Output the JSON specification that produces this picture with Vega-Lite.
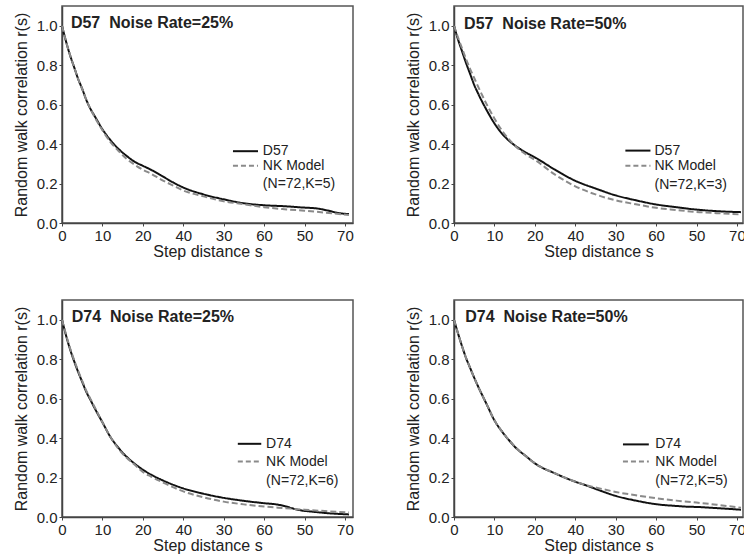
{
"$schema": "https://vega.github.io/schema/vega-lite/v6.json",
"padding": {"left": 12, "top": 5, "right": 0, "bottom": 0},
"background": "white",
"datasets": {
"A": [
{"g":"D","s":0,"r":1.0},{"g":"D","s":1,"r":0.92},{"g":"D","s":2,"r":0.85},{"g":"D","s":3,"r":0.79},{"g":"D","s":4,"r":0.73},{"g":"D","s":5,"r":0.68},{"g":"D","s":6,"r":0.625},{"g":"D","s":7,"r":0.58},{"g":"D","s":8,"r":0.545},{"g":"D","s":10,"r":0.475},{"g":"D","s":12,"r":0.42},{"g":"D","s":14,"r":0.375},{"g":"D","s":16,"r":0.34},{"g":"D","s":18,"r":0.31},{"g":"D","s":20,"r":0.29},{"g":"D","s":22,"r":0.27},{"g":"D","s":25,"r":0.235},{"g":"D","s":28,"r":0.2},{"g":"D","s":30,"r":0.18},{"g":"D","s":35,"r":0.145},{"g":"D","s":40,"r":0.12},{"g":"D","s":45,"r":0.1},{"g":"D","s":50,"r":0.09},{"g":"D","s":55,"r":0.085},{"g":"D","s":60,"r":0.078},{"g":"D","s":63,"r":0.074},{"g":"D","s":66,"r":0.062},{"g":"D","s":68,"r":0.052},{"g":"D","s":71,"r":0.045},
{"g":"NK","s":0,"r":1.0},{"g":"NK","s":1,"r":0.92},{"g":"NK","s":2,"r":0.85},{"g":"NK","s":3,"r":0.79},{"g":"NK","s":4,"r":0.73},{"g":"NK","s":5,"r":0.68},{"g":"NK","s":6,"r":0.625},{"g":"NK","s":7,"r":0.58},{"g":"NK","s":8,"r":0.54},{"g":"NK","s":10,"r":0.47},{"g":"NK","s":12,"r":0.41},{"g":"NK","s":14,"r":0.365},{"g":"NK","s":16,"r":0.325},{"g":"NK","s":18,"r":0.295},{"g":"NK","s":20,"r":0.27},{"g":"NK","s":22,"r":0.25},{"g":"NK","s":25,"r":0.215},{"g":"NK","s":28,"r":0.185},{"g":"NK","s":30,"r":0.165},{"g":"NK","s":35,"r":0.135},{"g":"NK","s":40,"r":0.11},{"g":"NK","s":45,"r":0.095},{"g":"NK","s":50,"r":0.08},{"g":"NK","s":55,"r":0.07},{"g":"NK","s":60,"r":0.062},{"g":"NK","s":65,"r":0.053},{"g":"NK","s":71,"r":0.04}
],
"B": [
{"g":"D","s":0,"r":1.0},{"g":"D","s":1,"r":0.93},{"g":"D","s":2,"r":0.87},{"g":"D","s":3,"r":0.81},{"g":"D","s":4,"r":0.755},{"g":"D","s":5,"r":0.7},{"g":"D","s":6,"r":0.655},{"g":"D","s":8,"r":0.575},{"g":"D","s":10,"r":0.505},{"g":"D","s":12,"r":0.45},{"g":"D","s":14,"r":0.41},{"g":"D","s":16,"r":0.38},{"g":"D","s":18,"r":0.355},{"g":"D","s":20,"r":0.333},{"g":"D","s":25,"r":0.27},{"g":"D","s":30,"r":0.214},{"g":"D","s":35,"r":0.175},{"g":"D","s":40,"r":0.14},{"g":"D","s":45,"r":0.115},{"g":"D","s":50,"r":0.094},{"g":"D","s":55,"r":0.08},{"g":"D","s":60,"r":0.068},{"g":"D","s":65,"r":0.06},{"g":"D","s":71,"r":0.055},
{"g":"NK","s":0,"r":1.0},{"g":"NK","s":1,"r":0.94},{"g":"NK","s":2,"r":0.885},{"g":"NK","s":3,"r":0.83},{"g":"NK","s":4,"r":0.78},{"g":"NK","s":5,"r":0.735},{"g":"NK","s":6,"r":0.69},{"g":"NK","s":8,"r":0.605},{"g":"NK","s":10,"r":0.53},{"g":"NK","s":12,"r":0.465},{"g":"NK","s":14,"r":0.415},{"g":"NK","s":16,"r":0.375},{"g":"NK","s":18,"r":0.345},{"g":"NK","s":20,"r":0.32},{"g":"NK","s":25,"r":0.245},{"g":"NK","s":30,"r":0.186},{"g":"NK","s":35,"r":0.145},{"g":"NK","s":40,"r":0.115},{"g":"NK","s":45,"r":0.095},{"g":"NK","s":50,"r":0.077},{"g":"NK","s":55,"r":0.066},{"g":"NK","s":60,"r":0.056},{"g":"NK","s":65,"r":0.05},{"g":"NK","s":71,"r":0.043}
],
"C": [
{"g":"D","s":0,"r":1.0},{"g":"D","s":1,"r":0.92},{"g":"D","s":2,"r":0.85},{"g":"D","s":3,"r":0.79},{"g":"D","s":4,"r":0.735},{"g":"D","s":5,"r":0.685},{"g":"D","s":6,"r":0.635},{"g":"D","s":7,"r":0.595},{"g":"D","s":8,"r":0.555},{"g":"D","s":10,"r":0.48},{"g":"D","s":12,"r":0.405},{"g":"D","s":14,"r":0.35},{"g":"D","s":16,"r":0.305},{"g":"D","s":18,"r":0.27},{"g":"D","s":20,"r":0.24},{"g":"D","s":22,"r":0.215},{"g":"D","s":25,"r":0.185},{"g":"D","s":30,"r":0.145},{"g":"D","s":35,"r":0.118},{"g":"D","s":40,"r":0.097},{"g":"D","s":45,"r":0.082},{"g":"D","s":50,"r":0.07},{"g":"D","s":53,"r":0.064},{"g":"D","s":55,"r":0.056},{"g":"D","s":57,"r":0.044},{"g":"D","s":59,"r":0.034},{"g":"D","s":62,"r":0.027},{"g":"D","s":66,"r":0.019},{"g":"D","s":71,"r":0.013},
{"g":"NK","s":0,"r":1.0},{"g":"NK","s":1,"r":0.925},{"g":"NK","s":2,"r":0.855},{"g":"NK","s":3,"r":0.795},{"g":"NK","s":4,"r":0.74},{"g":"NK","s":5,"r":0.69},{"g":"NK","s":6,"r":0.64},{"g":"NK","s":7,"r":0.6},{"g":"NK","s":8,"r":0.56},{"g":"NK","s":10,"r":0.48},{"g":"NK","s":12,"r":0.405},{"g":"NK","s":14,"r":0.345},{"g":"NK","s":16,"r":0.3},{"g":"NK","s":18,"r":0.265},{"g":"NK","s":20,"r":0.228},{"g":"NK","s":22,"r":0.205},{"g":"NK","s":25,"r":0.175},{"g":"NK","s":30,"r":0.13},{"g":"NK","s":35,"r":0.1},{"g":"NK","s":40,"r":0.078},{"g":"NK","s":45,"r":0.064},{"g":"NK","s":50,"r":0.053},{"g":"NK","s":55,"r":0.045},{"g":"NK","s":60,"r":0.037},{"g":"NK","s":65,"r":0.03},{"g":"NK","s":71,"r":0.023}
],
"E": [
{"g":"D","s":0,"r":1.0},{"g":"D","s":1,"r":0.93},{"g":"D","s":2,"r":0.865},{"g":"D","s":3,"r":0.805},{"g":"D","s":4,"r":0.755},{"g":"D","s":5,"r":0.706},{"g":"D","s":6,"r":0.66},{"g":"D","s":8,"r":0.575},{"g":"D","s":10,"r":0.49},{"g":"D","s":12,"r":0.43},{"g":"D","s":14,"r":0.38},{"g":"D","s":15,"r":0.357},{"g":"D","s":18,"r":0.305},{"g":"D","s":20,"r":0.272},{"g":"D","s":25,"r":0.221},{"g":"D","s":30,"r":0.179},{"g":"D","s":33,"r":0.158},{"g":"D","s":36,"r":0.135},{"g":"D","s":40,"r":0.107},{"g":"D","s":45,"r":0.083},{"g":"D","s":50,"r":0.065},{"g":"D","s":55,"r":0.056},{"g":"D","s":58,"r":0.052},{"g":"D","s":60,"r":0.051},{"g":"D","s":65,"r":0.045},{"g":"D","s":71,"r":0.037},
{"g":"NK","s":0,"r":1.0},{"g":"NK","s":1,"r":0.93},{"g":"NK","s":2,"r":0.865},{"g":"NK","s":3,"r":0.805},{"g":"NK","s":4,"r":0.755},{"g":"NK","s":5,"r":0.706},{"g":"NK","s":6,"r":0.66},{"g":"NK","s":8,"r":0.575},{"g":"NK","s":10,"r":0.49},{"g":"NK","s":12,"r":0.43},{"g":"NK","s":14,"r":0.38},{"g":"NK","s":15,"r":0.357},{"g":"NK","s":18,"r":0.305},{"g":"NK","s":20,"r":0.272},{"g":"NK","s":25,"r":0.221},{"g":"NK","s":30,"r":0.179},{"g":"NK","s":33,"r":0.16},{"g":"NK","s":36,"r":0.145},{"g":"NK","s":40,"r":0.127},{"g":"NK","s":45,"r":0.11},{"g":"NK","s":50,"r":0.095},{"g":"NK","s":55,"r":0.083},{"g":"NK","s":60,"r":0.073},{"g":"NK","s":65,"r":0.062},{"g":"NK","s":71,"r":0.047}
]
},
"config": {
"font": "Liberation Sans",
"view": {"stroke": "#555555", "strokeWidth": 1.5},
"axis": {"grid": false, "domainColor": "#444444", "domainWidth": 1.5, "tickColor": "#444444", "tickSize": 3, "labelFontSize": 15, "labelColor": "#222222", "titleFontSize": 16, "titleFontWeight": "normal", "titleColor": "#222222", "labelPadding": 2, "labelFlush": false, "labelOverlap": false},
"axisX": {"titlePadding": 0},
"axisY": {"titlePadding": 7},
"text": {"color": "#222222"}
},
"spacing": 39,
"vconcat": [
{"hconcat": [
{"width": 291, "height": 217, "data": {"name": "A"},
 "layer": [
 {"mark": {"type": "line", "strokeWidth": 2, "interpolate": "monotone"},
  "encoding": {
   "x": {"field": "s", "type": "quantitative", "scale": {"domain": [0, 72], "nice": false}, "title": "Step distance s", "axis": {"values": [0,5,10,15,20,25,30,35,40,45,50,55,60,65,70], "labelExpr": "datum.value==30?'40':datum.value==40?'30':datum.value==50?'60':datum.value==60?'50':(datum.value%10==0?format(datum.value,'d'):'')"}},
   "y": {"field": "r", "type": "quantitative", "scale": {"domain": [0, 1.1], "nice": false}, "title": "Random walk correlation r(s)", "axis": {"values": [0,0.1,0.2,0.3,0.4,0.5,0.6,0.7,0.8,0.9,1.0], "labelExpr": "abs(datum.value*5-round(datum.value*5))<0.001?format(datum.value,'.1f'):''"}},
   "color": {"field": "g", "type": "nominal", "scale": {"domain": ["D", "NK"], "range": ["#111111", "#8a8a8a"]}, "legend": null},
   "strokeDash": {"field": "g", "type": "nominal", "scale": {"domain": ["D", "NK"], "range": [[1, 0], [6, 3]]}, "legend": null}
  }},
 {"data": {"values": [{"t": "D57\u00a0 Noise Rate=25%"}]}, "mark": {"type": "text", "fontWeight": "bold", "fontSize": 16, "align": "left", "baseline": "middle"}, "encoding": {"x": {"datum": 2.2}, "y": {"datum": 1.012}, "text": {"field": "t"}}},
 {"data": {"values": [{"a": 1}]}, "mark": {"type": "rule", "strokeWidth": 2, "color": "#111111"}, "encoding": {"x": {"datum": 42.3}, "x2": {"datum": 48.5}, "y": {"datum": 0.364}}},
 {"data": {"values": [{"a": 1}]}, "mark": {"type": "rule", "strokeWidth": 2, "color": "#8a8a8a", "strokeDash": [5, 3]}, "encoding": {"x": {"datum": 42.3}, "x2": {"datum": 48.5}, "y": {"datum": 0.29}}},
 {"data": {"values": [{"t": "D57", "v": 0.364}, {"t": "NK Model", "v": 0.29}, {"t": "(N=72,K=5)", "v": 0.196}]}, "mark": {"type": "text", "fontSize": 14, "align": "left", "baseline": "middle"}, "encoding": {"x": {"datum": 49.7}, "y": {"field": "v", "type": "quantitative"}, "text": {"field": "t"}}}
 ]},
{"width": 289, "height": 217, "data": {"name": "B"},
 "layer": [
 {"mark": {"type": "line", "strokeWidth": 2, "interpolate": "monotone"},
  "encoding": {
   "x": {"field": "s", "type": "quantitative", "scale": {"domain": [0, 71.5], "nice": false}, "title": "Step distance s", "axis": {"values": [0,5,10,15,20,25,30,35,40,45,50,55,60,65,70], "labelExpr": "datum.value==30?'40':datum.value==40?'30':datum.value==50?'60':datum.value==60?'50':(datum.value%10==0?format(datum.value,'d'):'')"}},
   "y": {"field": "r", "type": "quantitative", "scale": {"domain": [0, 1.1], "nice": false}, "title": "Random walk correlation r(s)", "axis": {"values": [0,0.1,0.2,0.3,0.4,0.5,0.6,0.7,0.8,0.9,1.0], "labelExpr": "abs(datum.value*5-round(datum.value*5))<0.001?format(datum.value,'.1f'):''"}},
   "color": {"field": "g", "type": "nominal", "scale": {"domain": ["D", "NK"], "range": ["#111111", "#8a8a8a"]}, "legend": null},
   "strokeDash": {"field": "g", "type": "nominal", "scale": {"domain": ["D", "NK"], "range": [[1, 0], [6, 3]]}, "legend": null}
  }},
 {"data": {"values": [{"t": "D57\u00a0 Noise Rate=50%"}]}, "mark": {"type": "text", "fontWeight": "bold", "fontSize": 16, "align": "left", "baseline": "middle"}, "encoding": {"x": {"datum": 2.5}, "y": {"datum": 1.009}, "text": {"field": "t"}}},
 {"data": {"values": [{"a": 1}]}, "mark": {"type": "rule", "strokeWidth": 2, "color": "#111111"}, "encoding": {"x": {"datum": 42.4}, "x2": {"datum": 48.6}, "y": {"datum": 0.367}}},
 {"data": {"values": [{"a": 1}]}, "mark": {"type": "rule", "strokeWidth": 2, "color": "#8a8a8a", "strokeDash": [5, 3]}, "encoding": {"x": {"datum": 42.4}, "x2": {"datum": 48.6}, "y": {"datum": 0.29}}},
 {"data": {"values": [{"t": "D57", "v": 0.367}, {"t": "NK Model", "v": 0.29}, {"t": "(N=72,K=3)", "v": 0.193}]}, "mark": {"type": "text", "fontSize": 14, "align": "left", "baseline": "middle"}, "encoding": {"x": {"datum": 49.6}, "y": {"field": "v", "type": "quantitative"}, "text": {"field": "t"}}}
 ]}
], "spacing": 49},
{"hconcat": [
{"width": 291, "height": 217, "data": {"name": "C"},
 "layer": [
 {"mark": {"type": "line", "strokeWidth": 2, "interpolate": "monotone"},
  "encoding": {
   "x": {"field": "s", "type": "quantitative", "scale": {"domain": [0, 72], "nice": false}, "title": "Step distance s", "axis": {"values": [0,5,10,15,20,25,30,35,40,45,50,55,60,65,70], "labelExpr": "datum.value==30?'40':datum.value==40?'30':datum.value==50?'60':datum.value==60?'50':(datum.value%10==0?format(datum.value,'d'):'')"}},
   "y": {"field": "r", "type": "quantitative", "scale": {"domain": [0, 1.1], "nice": false}, "title": "Random walk correlation r(s)", "axis": {"values": [0,0.1,0.2,0.3,0.4,0.5,0.6,0.7,0.8,0.9,1.0], "labelExpr": "abs(datum.value*5-round(datum.value*5))<0.001?format(datum.value,'.1f'):''"}},
   "color": {"field": "g", "type": "nominal", "scale": {"domain": ["D", "NK"], "range": ["#111111", "#8a8a8a"]}, "legend": null},
   "strokeDash": {"field": "g", "type": "nominal", "scale": {"domain": ["D", "NK"], "range": [[1, 0], [6, 3]]}, "legend": null}
  }},
 {"data": {"values": [{"t": "D74\u00a0 Noise Rate=25%"}]}, "mark": {"type": "text", "fontWeight": "bold", "fontSize": 16, "align": "left", "baseline": "middle"}, "encoding": {"x": {"datum": 2.4}, "y": {"datum": 1.015}, "text": {"field": "t"}}},
 {"data": {"values": [{"a": 1}]}, "mark": {"type": "rule", "strokeWidth": 2, "color": "#111111"}, "encoding": {"x": {"datum": 43.5}, "x2": {"datum": 49.3}, "y": {"datum": 0.371}}},
 {"data": {"values": [{"a": 1}]}, "mark": {"type": "rule", "strokeWidth": 2, "color": "#8a8a8a", "strokeDash": [5, 3]}, "encoding": {"x": {"datum": 43.5}, "x2": {"datum": 49.3}, "y": {"datum": 0.281}}},
 {"data": {"values": [{"t": "D74", "v": 0.371}, {"t": "NK Model", "v": 0.281}, {"t": "(N=72,K=6)", "v": 0.184}]}, "mark": {"type": "text", "fontSize": 14, "align": "left", "baseline": "middle"}, "encoding": {"x": {"datum": 50.5}, "y": {"field": "v", "type": "quantitative"}, "text": {"field": "t"}}}
 ]},
{"width": 289, "height": 217, "data": {"name": "E"},
 "layer": [
 {"mark": {"type": "line", "strokeWidth": 2, "interpolate": "monotone"},
  "encoding": {
   "x": {"field": "s", "type": "quantitative", "scale": {"domain": [0, 71.5], "nice": false}, "title": "Step distance s", "axis": {"values": [0,5,10,15,20,25,30,35,40,45,50,55,60,65,70], "labelExpr": "datum.value==30?'40':datum.value==40?'30':datum.value==50?'60':datum.value==60?'50':(datum.value%10==0?format(datum.value,'d'):'')"}},
   "y": {"field": "r", "type": "quantitative", "scale": {"domain": [0, 1.1], "nice": false}, "title": "Random walk correlation r(s)", "axis": {"values": [0,0.1,0.2,0.3,0.4,0.5,0.6,0.7,0.8,0.9,1.0], "labelExpr": "abs(datum.value*5-round(datum.value*5))<0.001?format(datum.value,'.1f'):''"}},
   "color": {"field": "g", "type": "nominal", "scale": {"domain": ["D", "NK"], "range": ["#111111", "#8a8a8a"]}, "legend": null},
   "strokeDash": {"field": "g", "type": "nominal", "scale": {"domain": ["D", "NK"], "range": [[1, 0], [6, 3]]}, "legend": null}
  }},
 {"data": {"values": [{"t": "D74\u00a0 Noise Rate=50%"}]}, "mark": {"type": "text", "fontWeight": "bold", "fontSize": 16, "align": "left", "baseline": "middle"}, "encoding": {"x": {"datum": 2.8}, "y": {"datum": 1.012}, "text": {"field": "t"}}},
 {"data": {"values": [{"a": 1}]}, "mark": {"type": "rule", "strokeWidth": 2, "color": "#111111"}, "encoding": {"x": {"datum": 41.8}, "x2": {"datum": 48.2}, "y": {"datum": 0.368}}},
 {"data": {"values": [{"a": 1}]}, "mark": {"type": "rule", "strokeWidth": 2, "color": "#8a8a8a", "strokeDash": [5, 3]}, "encoding": {"x": {"datum": 41.8}, "x2": {"datum": 48.2}, "y": {"datum": 0.281}}},
 {"data": {"values": [{"t": "D74", "v": 0.368}, {"t": "NK Model", "v": 0.281}, {"t": "(N=72,K=5)", "v": 0.182}]}, "mark": {"type": "text", "fontSize": 14, "align": "left", "baseline": "middle"}, "encoding": {"x": {"datum": 49.8}, "y": {"field": "v", "type": "quantitative"}, "text": {"field": "t"}}}
 ]}
], "spacing": 49}
]
}
